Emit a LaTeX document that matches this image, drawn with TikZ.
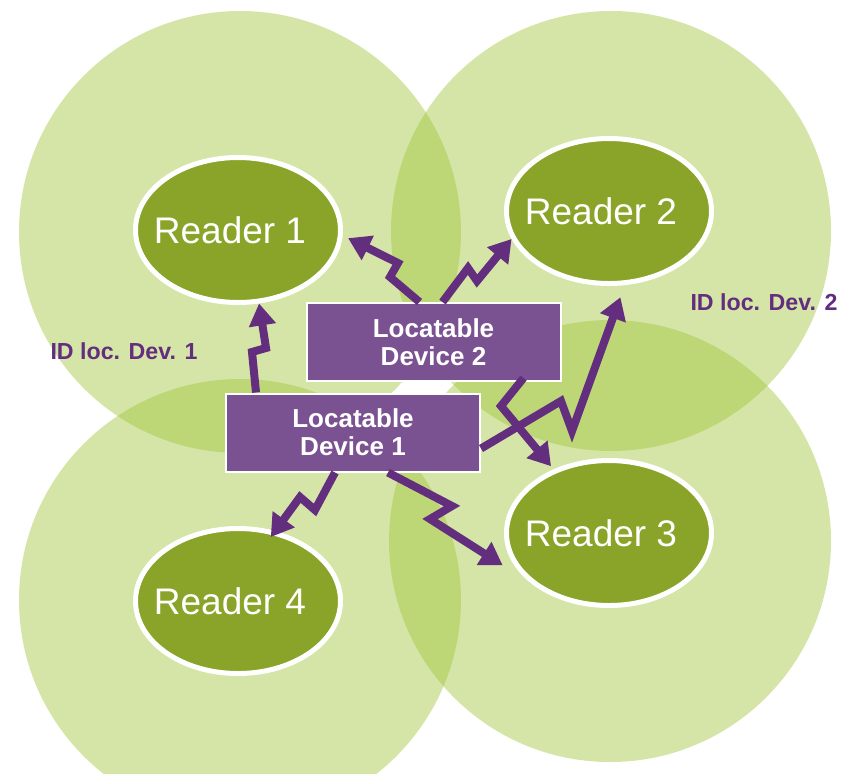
\documentclass[tikz,border=0pt]{standalone}
\usepackage{fontspec}
\setmainfont{Liberation Sans}
\usetikzlibrary{arrows.meta}
\usetikzlibrary{shapes}
\definecolor{zonegreen}{RGB}{160,198,60}
\definecolor{readergreen}{RGB}{137,164,40}
\definecolor{devpurple}{RGB}{122,82,145}
\definecolor{linkpurple}{RGB}{100,46,126}
\tikzset{%
  >={Triangle[width=13pt,length=11pt]},
  % Specifications for style of nodes:
         zone/.style = {fill=zonegreen, fill opacity=0.45},
       reader/.style = {ellipse, draw=white, line width=2.5pt,
                        fill=readergreen, minimum width=102.5pt,
                        minimum height=72.5pt, inner sep=0pt, text=white,
                        font=\fontsize{18.5}{20}\selectfont},
       device/.style = {rectangle, draw=white, line width=1pt,
                        fill=devpurple, minimum width=127pt,
                        minimum height=39pt, inner sep=0pt, text=white,
                        align=center, font=\bfseries\fontsize{13}{14}\selectfont},
      idlabel/.style = {text=linkpurple, font=\bfseries\fontsize{11.6}{13}\selectfont},
         link/.style = {->, draw=linkpurple, line width=4pt, line join=miter}
}

\begin{document}
\begin{tikzpicture}[x=0.5pt, y=-0.5pt]
  \useasboundingbox (0,0) rectangle (850,773);
  \clip (0,0) rectangle (850,773);
  % Reading zones
  \fill[zone] (240,232) circle (221);
  \fill[zone] (611,231) circle (220);
  \fill[zone] (240,600) circle (221);
  \fill[zone] (610,541) circle (221);
  % Specification of nodes (position, etc.)
  \node (reader1)		[reader] at (238,230) {\hspace*{-8pt}Reader 1};
  \node (reader2)		[reader] at (609,211) {\hspace*{-8pt}Reader 2};
  \node (reader3)		[reader] at (609,533) {\hspace*{-8pt}Reader 3};
  \node (reader4)		[reader] at (238,601) {\hspace*{-8pt}Reader 4};
  \node (dev2)			[device] at (433.5,342) {Locatable\\Device 2};
  \node (dev1)			[device] at (353,432.5) {Locatable\\Device 1};
  \fill[white] (395,391) -- (401,383) -- (452,383) -- (446,391) -- cycle;
  \node (id1)			[idlabel] at (124,351) {ID loc. Dev. 1};
  \node (id2)			[idlabel] at (764,302) {ID loc. Dev. 2};
  % Links from the devices to the readers
  \draw[link]	([xshift=15.5pt]dev1.north west) -- (252,352) -- (266,348) -- (reader1.-74);
  \draw[link, shorten >=3pt]	([xshift=57pt]dev2.north west) -- (390,277) -- (398,263) -- (reader1.-3);
  \draw[link]	([xshift=68.5pt]dev2.north west) -- (468,268) -- (477,281) -- (reader2.196);
  \draw[link, shorten >=6.4pt]	([yshift=-8pt]dev1.east) -- (561,401) -- (572,431) -- (reader2.-78);
  \draw[link, shorten >=2pt]	([xshift=-19pt,yshift=2pt]dev2.south east) -- (501,406) -- (reader3.131);
  \draw[link, shorten >=17pt]	([xshift=17.5pt]dev1.south) -- (452,506) -- (430,519) -- (reader3.213);
  \draw[link, shorten >=-3.8pt]	([xshift=-9pt]dev1.south) -- (315,510) -- (300,497) -- (reader4.62);
\end{tikzpicture}
\end{document}
